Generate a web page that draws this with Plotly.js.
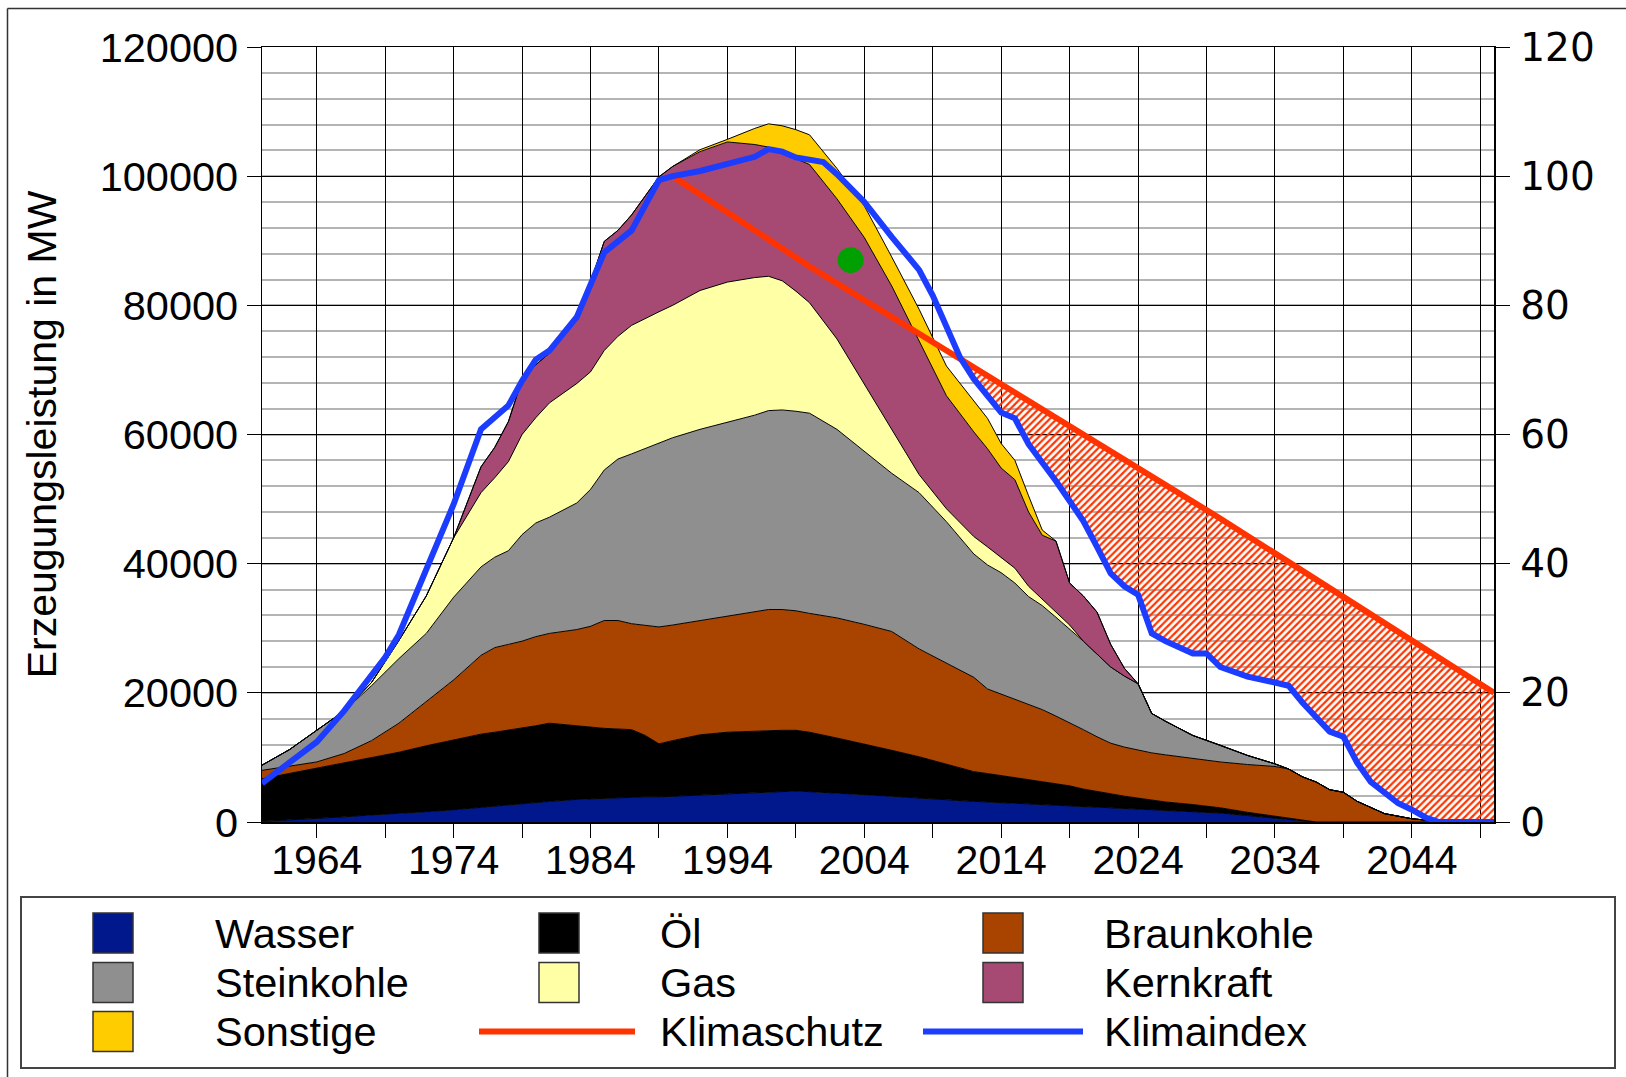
<!DOCTYPE html>
<html><head><meta charset="utf-8">
<script src="https://cdn.plot.ly/plotly-3.0.1.min.js"></script>
<style>html,body{margin:0;padding:0;background:#fff;} #chart{width:1626px;height:1077px;}</style>
</head><body><div id="chart"></div>
<script>
// ---------- data (MW) ----------
const years = [1960,1962,1964,1966,1968,1970,1972,1974,1976,1977,1978,1979,1980,1981,1983,1984,1985,1986,1987,1988,1989,1990,1992,1994,1996,1997,1998,1999,2000,2002,2004,2006,2008,2010,2012,2013,2014,2015,2016,2017,2018,2019,2020,2021,2022,2023,2024,2025,2026,2028,2030,2032,2034,2035,2036,2037,2038,2039,2040,2042,2044,2046,2048,2050];
const wasser = [100,300,500,800,1100,1300,1600,1900, 2300,2500,2700,2800,3000,3200, 3500,3600,3700,3800,3800,3900,3900,4000, 4100,4300,4500,4700,4800,4800,4700, 4500,4300,4000,3700,3400, 3200,3100,3000,2900,2800,2700,2700,2600,2500,2400,2300,2200,2100,2000, 1900,1700,1400,1000,600, 400,200,0,0,0,0, 0,0,0,0,0];
const oel = [6600,7200,7800,8300,8800,9500,10200,10800, 11300,11400,11500,11700,11900,12100, 11400,11000,10800,10600,10500,9500,8200,8600, 9400,9600,9600,9500,9400,9400,9200, 8500,7800,7100,6400,5500, 4600,4400,4200,4000,3800,3600,3300,3000,2600,2300,2000,1800,1600,1400, 1200,1000,800,500,300, 200,100,0,0,0,0, 0,0,0,0,0];
const braunkohle = [1300,1100,1000,1500,2700,4500,6800,9300, 12200,13100,13300,13500,13800,13900, 14900,15700,16700,16800,16400,17000,18100,17900, 17700,18000,18400,18700,18700,18500,18400, 18600,18500,18400,16700,15700, 14600,13100,12600,12200,11700,11100,10400,9800,9200,8500,7900,7600,7400,7300, 7300,7100,7100,7400,7700, 7600,6700,6200,5000,4600,3200, 1300,500,100,0,0];
const steinkohle = [800,2600,4900,6600,8500,10000,10600,12800, 13700,14000,14500,16500,17600,18000, 19600,21200,23300,25000,26300,27400,28500,29000, 29600,30000,30500,30800,30900,30900,31000, 29200,26800,24500,24200,21900, 19100,19200,18800,17900,16600,16100,15300,14500,13700,12800,11800,11000,10300,6100, 5200,3600,2600,1400,400, 0,0,0,0,0,0, 0,0,0,0,0];
const gas = [0,0,0,0,500,2800,5800,9200, 11500,12300,13800,15500,16300,17700, 18500,18200,18500,19000,19900,20200,20300,20500, 21500,21700,21300,20800,20000,18600,17100, 14000,10400,7000,2800,2000, 2700,2800,2300,2300,1600,1000,800,600,0,0,0,0,0,0, 0,0,0,0,0, 0,0,0,0,0,0, 0,0,0,0,0];
const kernkraft = [0,0,0,0,0,0,0,0, 4000,4700,6200,8500,8200,7700, 10700,13900,16900,16400,17100,19000,20900,21500, 21500,21700,20600,20000,19800,20400,21400, 21700,22700,22000,20700,17500, 16200,15200,13900,13700,11500,9900,11000,6500,7000,6500,3500,1200,0,0, 0,0,0,0,0, 0,0,0,0,0,0, 0,0,0,0,0];
const sonstige = [0,0,0,0,0,0,0,0, 0,0,0,0,0,0, 0,0,0,0,0,0,0,0, 300,400,2500,3600,4200,4600,4600, 4700,4900,4500,4900,4600, 4800,4700,3800,3000,2500,800,0,0,0,0,0,0,0,0, 0,0,0,0,0, 0,0,0,0,0,0, 0,0,0,0,0];

// Klimaindex and Klimaschutz (right axis)
const kiYears = [1960,1962,1964,1966,1968,1969,1970,1972,1974,1976,1978,1979,1980,1981,1983,1985,1987,1989,1990,1992,1994,1996,1997,1998,1999,2001,2002,2004,2006,2008,2009,2010,2011,2012,2014,2015,2016,2018,2019,2020,2021,2022,2023,2024,2025,2026,2028,2029,2030,2032,2034,2035,2036,2038,2039,2040,2041,2043,2044,2045,2046,2050];
const kiValues = [6.0,9.2,12.4,17.2,22.5,25.5,29.0,38.9,49.2,60.8, 64.5,68.3,71.6,73.0,78.2,88.2,91.6,99.4,100.0,100.8, 101.8,103.0,104.2,103.8,102.9,102.2,100.3,96.0,90.6,85.5, 81.5,76.8,71.9,68.6,63.4,62.5,58.5,52.8,49.5,46.6, 42.6,38.5,36.5,35.2,29.2,28.0,26.1,26.1,24.0,22.5, 21.6,21.1,18.5,14.0,13.2,9.2,6.2,2.9,1.9,0.7, 0,0];
const ksYears = [1990,2000,2010,2020,2030,2040,2050];
const ksValues = [100,86,73,60,47,33.5,20];
const dotYear = [2003];
const dotValue = [87];

// tick labels
const xTickVals = [1964,1969,1974,1979,1984,1989,1994,1999,2004,2009,2014,2019,2024,2029,2034,2039,2044,2049];
const xTickText = ['1964','','1974','','1984','','1994','','2004','','2014','','2024','','2034','','2044',''];
const yTickVals = [0,20000,40000,60000,80000,100000,120000];
const yTickText = ['0','20000','40000','60000','80000','100000','120000'];
const y2TickVals = [0,20,40,60,80,100,120];
const y2TickText = ['0','20','40','60','80','100','120'];

const areaNames = ['Wasser','Öl','Braunkohle','Steinkohle','Gas','Kernkraft','Sonstige'];
const lineNames = ['Klimaschutz','Klimaindex'];

// ---------- styles ----------
const areaColors = ['#00188c','#000000','#a84300','#8f8f8f','#ffffa6','#a64a74','#ffcc00'];
const redColor = '#ff3300', blueColor = '#1c3cff';
const FONT = 'Liberation Sans, Arial, sans-serif';

const series = [wasser, oel, braunkohle, steinkohle, gas, kernkraft, sonstige];
const traces = series.map((vals, i) => ({
  type:'scatter', mode:'lines', x: years, y: vals, name: areaNames[i],
  stackgroup:'one', fillcolor: areaColors[i],
  line:{color:'#000', width:1, shape:'linear'}, showlegend:false, hoverinfo:'x+y+name'
}));

// hatched band between Klimaschutz and Klimaindex (where index is below target)
function interp(xs, ys, x){
  for (let i=0;i<xs.length-1;i++){
    if (x>=xs[i] && x<=xs[i+1]){ const t=(x-xs[i])/(xs[i+1]-xs[i]); return ys[i]+t*(ys[i+1]-ys[i]); }
  }
  return null;
}
let xc=null, yc=null, startIdx=0;
for (let i=0;i<kiYears.length-1;i++){
  const x0=kiYears[i], x1=kiYears[i+1];
  if (x0 < ksYears[0]+5) continue;
  const d0 = kiValues[i]-interp(ksYears,ksValues,x0);
  const d1 = kiValues[i+1]-interp(ksYears,ksValues,x1);
  if (d0>=0 && d1<0){ const t=d0/(d0-d1); xc=x0+t*(x1-x0); yc=kiValues[i]+t*(kiValues[i+1]-kiValues[i]); startIdx=i+1; break; }
}
const lowX=[xc].concat(kiYears.slice(startIdx)), lowY=[yc].concat(kiValues.slice(startIdx));
const upX=[xc], upY=[yc];
ksYears.forEach((y,i)=>{ if (y>xc){ upX.push(y); upY.push(ksValues[i]); } });

traces.push({type:'scatter', mode:'lines', x:lowX, y:lowY, yaxis:'y2', line:{width:0, color:'rgba(0,0,0,0)'}, showlegend:false, hoverinfo:'skip'});
traces.push({type:'scatter', mode:'lines', x:upX, y:upY, yaxis:'y2', fill:'tonexty', fillcolor:'rgba(0,0,0,0)',
  fillpattern:{shape:'/', fgcolor:redColor, bgcolor:'rgba(255,255,255,0)', size:5, solidity:0.45},
  line:{width:0, color:'rgba(0,0,0,0)'}, showlegend:false, hoverinfo:'skip'});
traces.push({type:'scatter', mode:'lines', x:ksYears, y:ksValues, yaxis:'y2', name:lineNames[0], line:{color:redColor, width:6}, showlegend:false});
traces.push({type:'scatter', mode:'lines', x:kiYears, y:kiValues, yaxis:'y2', name:lineNames[1], line:{color:blueColor, width:6}, showlegend:false});
traces.push({type:'scatter', mode:'markers', x:dotYear, y:dotValue, yaxis:'y2', marker:{color:'#00a000', size:26}, showlegend:false, hoverinfo:'x+y'});

// ---------- layout ----------
const W=1626, H=1077, M={l:262, r:132, t:47, b:255};
const PW=W-M.l-M.r, PH=H-M.t-M.b;
const px = X => (X-M.l)/PW;
const py = Y => (H-M.b-Y)/PH;

const shapes = [];
const annotations = [];
// outer frame (top and left edges visible)
shapes.push({type:'line', xref:'paper', yref:'paper', x0:px(7.5), x1:px(1626), y0:py(8.5), y1:py(8.5), line:{color:'#333', width:1.5}});
shapes.push({type:'line', xref:'paper', yref:'paper', x0:px(7.5), x1:px(7.5), y0:py(8.5), y1:py(1077), line:{color:'#333', width:1.5}});
// legend box
shapes.push({type:'rect', xref:'paper', yref:'paper', x0:px(21), x1:px(1615), y0:py(1068), y1:py(897), line:{color:'#444', width:2}, fillcolor:'rgba(0,0,0,0)'});

const legendEntries = areaNames.map((n,i)=>({name:n, kind:'box', color:areaColors[i]}))
  .concat([{name:lineNames[0], kind:'line', color:redColor},{name:lineNames[1], kind:'line', color:blueColor}]);
const colSwatchX = [93, 539, 983];
const colTextX = [213, 658, 1102];
const colLineX = [[50,130],[479,635],[923,1083]];
const rowY = [933, 982.5, 1031.5];
legendEntries.forEach((e,i)=>{
  const r=Math.floor(i/3), c=i%3, cy=rowY[r];
  if (e.kind==='box'){
    shapes.push({type:'rect', xref:'paper', yref:'paper', x0:px(colSwatchX[c]), x1:px(colSwatchX[c]+40), y0:py(cy+20), y1:py(cy-20), fillcolor:e.color, line:{color:'#333', width:1.5}});
  } else {
    shapes.push({type:'line', xref:'paper', yref:'paper', x0:px(colLineX[c][0]), x1:px(colLineX[c][1]), y0:py(cy), y1:py(cy), line:{color:e.color, width:6}});
  }
  annotations.push({xref:'paper', yref:'paper', x:px(colTextX[c]), y:py(cy), xanchor:'left', yanchor:'middle', showarrow:false, text:e.name, font:{family:FONT, size:41.5, color:'#000'}});
});

const layout = {
  width:W, height:H, margin:M, paper_bgcolor:'#fff', plot_bgcolor:'#fff', showlegend:false,
  font:{family:FONT, color:'#000'},
  xaxis:{range:[1960,2050], tickmode:'array', tickvals:xTickVals, ticktext:xTickText, ticks:'outside', ticklen:14, tickwidth:1, tickcolor:'#000',
    showgrid:true, gridcolor:'#000', gridwidth:1, showline:true, linecolor:'#000', linewidth:1.5, mirror:true, zeroline:false,
    ticklabelstandoff:-13,
    tickfont:{family:FONT, size:41, color:'#000'}},
  yaxis:{range:[0,120000], tickmode:'array', tickvals:yTickVals, ticktext:yTickText, ticks:'outside', ticklen:14, tickwidth:1, tickcolor:'#000',
    showgrid:true, gridcolor:'#000', gridwidth:1, showline:true, linecolor:'#000', linewidth:1.5, zeroline:false,
    minor:{dtick:4000, tick0:0, showgrid:true, gridcolor:'#b4b4b4', gridwidth:2, ticks:''},
    tickfont:{family:FONT, size:41.5, color:'#000'},
    title:{text:'Erzeugungsleistung in MW', font:{family:FONT, size:41, color:'#000'}, standoff:30}},
  yaxis2:{range:[0,120], overlaying:'y', side:'right', tickmode:'array', tickvals:y2TickVals, ticktext:y2TickText, ticks:'outside', ticklen:14, tickwidth:1, tickcolor:'#000',
    showgrid:false, showline:true, linecolor:'#000', linewidth:1.5, zeroline:false, ticklabelstandoff:3,
    tickfont:{family:'DejaVu Sans, sans-serif', size:39, color:'#000'}},
  shapes:shapes, annotations:annotations
};

Plotly.newPlot('chart', traces, layout, {displayModeBar:false, staticPlot:true});
</script>
</body></html>
